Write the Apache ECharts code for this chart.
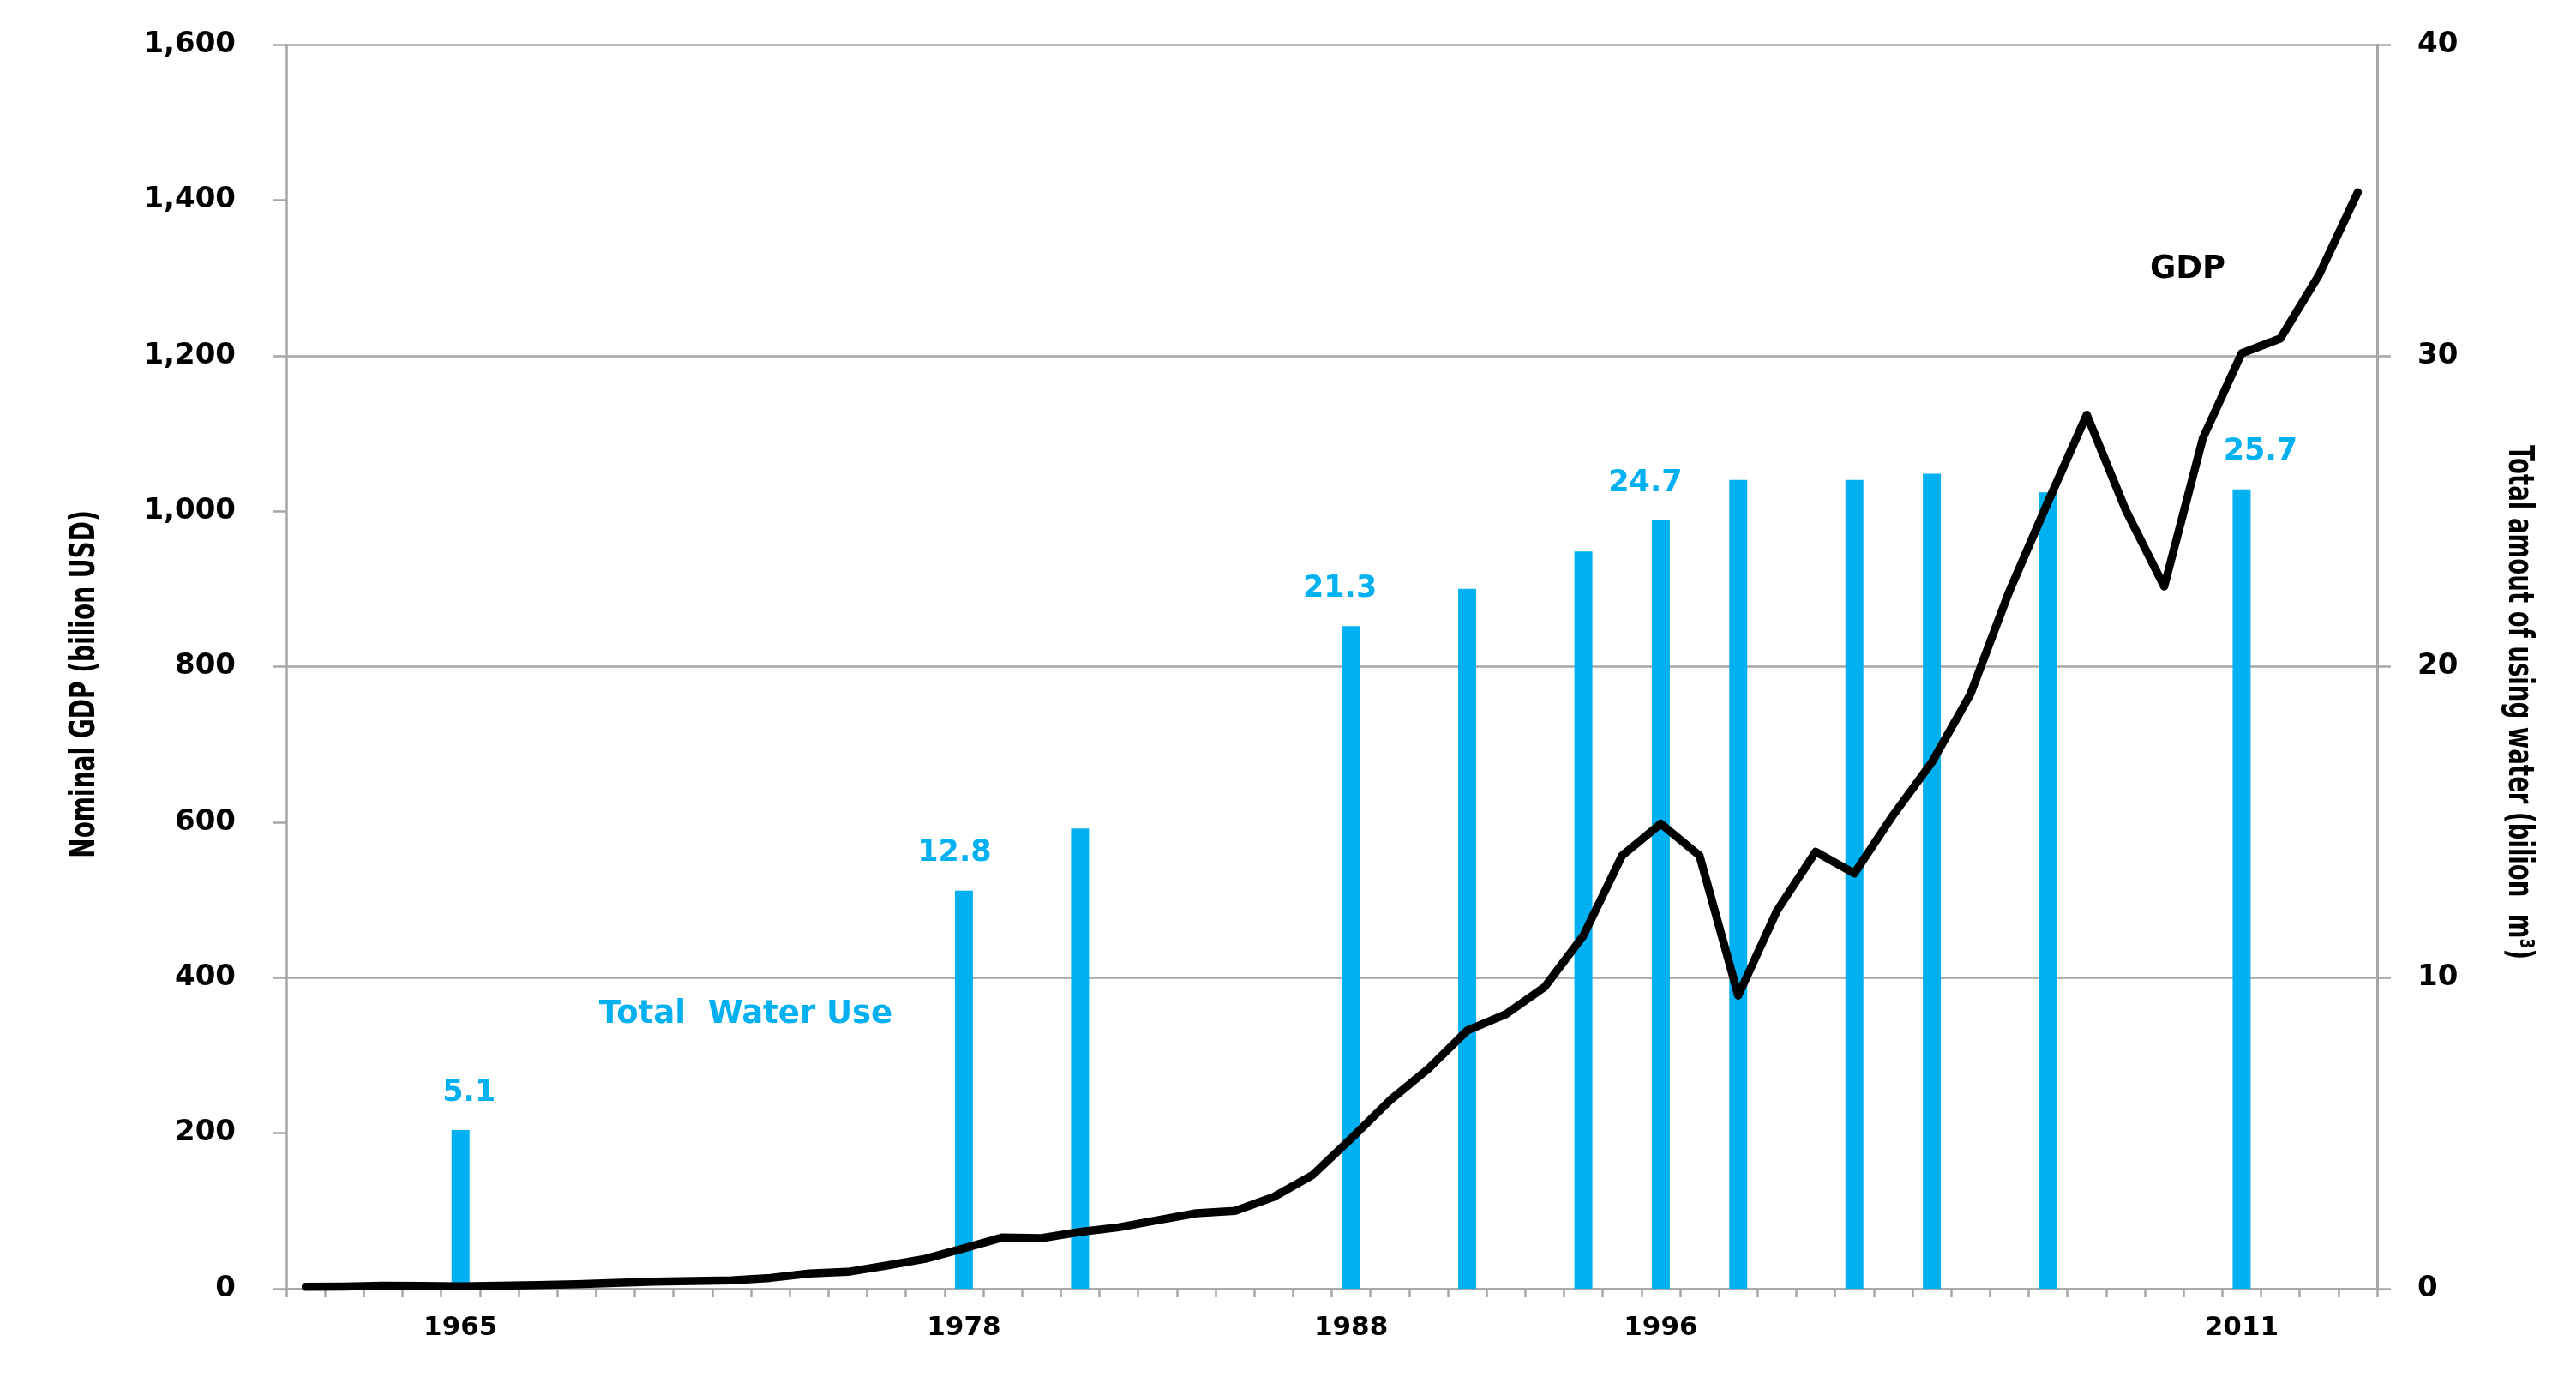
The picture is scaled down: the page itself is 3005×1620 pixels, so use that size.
<!DOCTYPE html>
<html>
<head>
<meta charset="utf-8">
<script src="https://cdn.jsdelivr.net/npm/echarts@6/dist/echarts.min.js"></script>
<style>
html,body{margin:0;padding:0;background:#fff;}
#chart{width:3005px;height:1620px;}
</style>
</head>
<body>
<div id="chart"></div>
<script>
// ---- data ----
const years = [];
for (let y = 1961; y <= 2014; y++) years.push(String(y));

const gdpValues = [
  2.4, 2.8, 3.9, 3.5, 3.1, 3.8, 4.7, 5.9, 7.5, 9.0,
  9.9, 10.8, 13.9, 19.5, 21.7, 29.8, 38.4, 52, 66, 65,
  73, 79, 88, 97, 100, 118, 146, 193, 242, 283,
  332, 353, 388, 454, 557, 598, 557, 377, 486, 562,
  534, 609, 677, 765, 897, 1012, 1124, 1002, 903, 1094,
  1203, 1222, 1304, 1410
];

const waterYears  = ['1965','1978','1981','1988','1991','1994','1996','1998','2001','2003','2006','2011'];
const waterValues = [5.1, 12.8, 14.8, 21.3, 22.5, 23.7, 24.7, 26.0, 26.0, 26.2, 25.6, 25.7];

const labeledWaterYears = ['1965','1978','1988','1996','2011'];
const xTickLabels = ['1965','1978','1988','1996','2011'];

const leftAxisTitle = 'Nominal GDP (bilion USD)';
const rightAxisTitle = 'Total amout of using water (bilion  m\u00B3)';

// label nudges (styling, kept apart from the data)
const labelShift = {'1965': 10, '1978': -11, '1988': -13, '1996': -18, '2011': 22};

// ---- build series data ----
const waterData = years.map(y => {
  const k = waterYears.indexOf(y);
  if (k < 0) return null;
  const item = { value: waterValues[k] };
  if (labeledWaterYears.includes(y)) {
    item.label = { show: true, offset: [labelShift[y] || 0, 0] };
  }
  return item;
});

const BLUE = '#00B0F0';
const GRAY = '#A6A6A6';
const WIDE = "'DejaVu Sans', Verdana, sans-serif";

const chart = echarts.init(document.getElementById('chart'));
chart.setOption({
  animation: false,
  backgroundColor: '#ffffff',
  grid: { left: 334, right: 232, top: 52, bottom: 117, containLabel: false },
  xAxis: {
    type: 'category',
    data: years,
    boundaryGap: true,
    axisLine: { show: true, lineStyle: { color: GRAY, width: 2.5 } },
    axisTick: { show: true, interval: 0, length: 10, lineStyle: { color: GRAY, width: 2.5 } },
    axisLabel: {
      interval: (i, v) => xTickLabels.includes(v),
      margin: 30,
      fontFamily: WIDE, fontWeight: 'bold', fontSize: 31, color: '#000'
    },
    splitLine: { show: false }
  },
  yAxis: [
    {
      type: 'value', position: 'left',
      min: 0, max: 1600, interval: 200,
      axisLine: { show: true, lineStyle: { color: GRAY, width: 2.5 } },
      axisTick: { show: true, length: 16, lineStyle: { color: GRAY, width: 2.5 } },
      axisLabel: {
        margin: 59,
        formatter: v => v.toLocaleString('en-US'),
        fontFamily: WIDE, fontWeight: 'bold', fontSize: 34, color: '#000'
      },
      splitLine: { show: false }
    },
    {
      type: 'value', position: 'right',
      min: 0, max: 40, interval: 10,
      axisLine: { show: true, lineStyle: { color: GRAY, width: 3 } },
      axisTick: { show: true, length: 16, lineStyle: { color: GRAY, width: 2.5 } },
      axisLabel: {
        margin: 47,
        fontFamily: WIDE, fontWeight: 'bold', fontSize: 34, color: '#000'
      },
      splitLine: { show: true, lineStyle: { color: GRAY, width: 2.5 } }
    }
  ],
  series: [
    {
      name: 'Total Water Use',
      type: 'bar',
      yAxisIndex: 1,
      data: waterData,
      barWidth: 21,
      itemStyle: { color: BLUE },
      label: {
        show: false,
        position: 'top',
        distance: 26,
        fontFamily: WIDE, fontWeight: 'bold', fontSize: 35, color: BLUE,
        formatter: p => p.value.toFixed(1)
      },
      z: 2
    },
    {
      name: 'GDP',
      type: 'line',
      yAxisIndex: 0,
      data: gdpValues,
      symbol: 'none',
      lineStyle: { color: '#000', width: 9.5, join: 'round', cap: 'round' },
      z: 3
    }
  ],
  graphic: [
    {
      type: 'text', x: 870, y: 1183,
      style: {
        text: 'Total  Water Use', fill: BLUE,
        font: "bold 37px 'DejaVu Sans', Verdana, sans-serif",
        textAlign: 'center', textVerticalAlign: 'middle'
      },
      z: 10
    },
    {
      type: 'text', x: 2552, y: 314,
      style: {
        text: 'GDP', fill: '#000',
        font: "bold 37px 'DejaVu Sans', Verdana, sans-serif",
        textAlign: 'center', textVerticalAlign: 'middle'
      },
      z: 10
    },
    {
      type: 'text', x: 100, y: 798, rotation: Math.PI / 2, scaleX: 0.70,
      style: {
        text: leftAxisTitle, fill: '#000',
        font: "bold 40px 'DejaVu Sans', Verdana, sans-serif",
        textAlign: 'center', textVerticalAlign: 'middle'
      },
      z: 10
    },
    {
      type: 'text', x: 2937, y: 819, rotation: -Math.PI / 2, scaleX: 0.69,
      style: {
        text: rightAxisTitle, fill: '#000',
        font: "bold 40px 'DejaVu Sans', Verdana, sans-serif",
        textAlign: 'center', textVerticalAlign: 'middle'
      },
      z: 10
    }
  ]
});
</script>
</body>
</html>
